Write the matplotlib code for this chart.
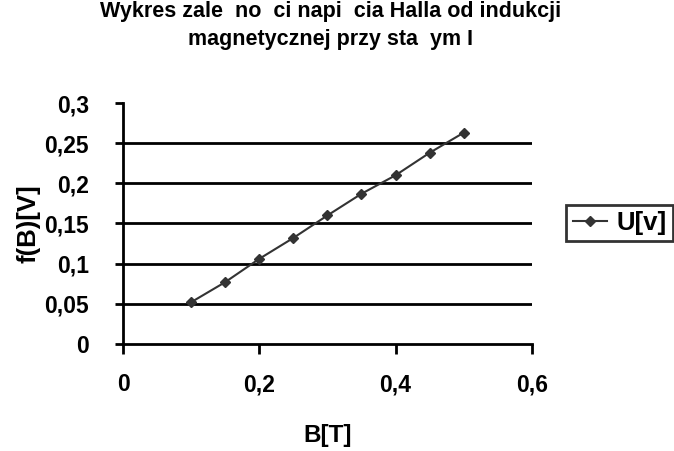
import matplotlib
matplotlib.use("Agg")
import matplotlib.pyplot as plt

plt.rcParams['font.family'] = ['Liberation Sans', 'DejaVu Sans']
plt.rcParams['font.weight'] = 'bold'

# dane pomiarowe
B = [0.1, 0.15, 0.2, 0.25, 0.3, 0.35, 0.4, 0.45, 0.5]
U = [0.052, 0.077, 0.106, 0.132, 0.160, 0.187, 0.210, 0.238, 0.263]
x_ticks = [0, 0.2, 0.4, 0.6]
y_ticks = [0, 0.05, 0.1, 0.15, 0.2, 0.25, 0.3]
grid_vals = [0.05, 0.1, 0.15, 0.2, 0.25]

def comma(v):
    return ('%g' % v).replace('.', ',')

fig = plt.figure(figsize=(6.74, 4.51), dpi=100)
ax = fig.add_axes([0.1825, 0.2373, 0.6065, 0.5343])

for g in grid_vals:
    ax.axhline(g, color='black', lw=2, zorder=1)

ax.plot(B, U, color='#333333', lw=1.5, marker='D', markersize=5.5,
        markerfacecolor='#333333', markeredgecolor='#333333', label='U[v]', zorder=3)

ax.set_xlim(0, 0.6)
ax.set_ylim(0, 0.3)
ax.set_xticks(x_ticks)
ax.set_yticks(y_ticks)
ax.set_xticklabels([comma(v) for v in x_ticks])
ax.set_yticklabels([comma(v) for v in y_ticks])
ax.tick_params(axis='both', labelsize=16.5, width=2, direction='out')
ax.tick_params(axis='x', length=7, pad=14)
ax.tick_params(axis='y', length=5.5, pad=19)

for s in ['top', 'right']:
    ax.spines[s].set_visible(False)
for s in ['left', 'bottom']:
    ax.spines[s].set_linewidth(2)

ax.set_xlabel('B[T]', fontsize=17.5, fontweight='bold', labelpad=20)
ax.set_ylabel('f(B)[V]', fontsize=18.5, fontweight='bold', labelpad=3)

fig.text(0.49, 0.998, 'Wykres zale  no  ci napi  cia Halla od indukcji\nmagnetycznej przy sta  ym I',
         ha='center', va='top', fontsize=15.5, fontweight='bold', linespacing=1.45)

leg = fig.legend(loc='center left', bbox_to_anchor=(0.84, 0.5055), fontsize=18.5,
                 frameon=True, fancybox=False, edgecolor='black', handlelength=1.35,
                 borderpad=0.25, handletextpad=0.35, borderaxespad=0)
leg.get_frame().set_linewidth(2)

fig.savefig('out.png', dpi=100)
